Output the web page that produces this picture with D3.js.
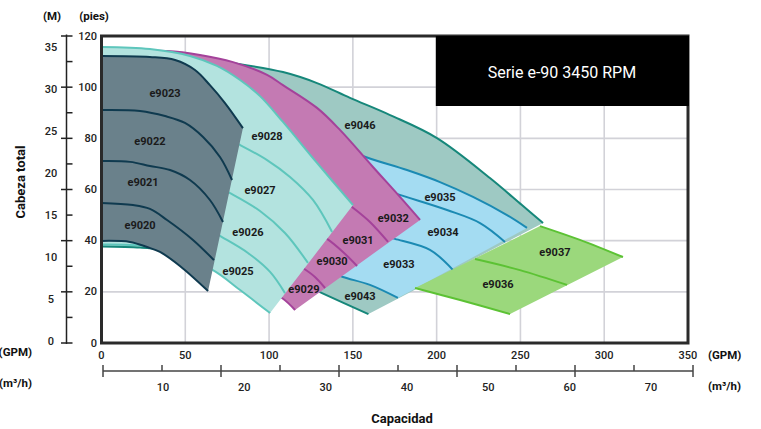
<!DOCTYPE html>
<html><head><meta charset="utf-8">
<script src="https://cdn.jsdelivr.net/npm/d3@7"></script>
<style>
body{margin:0;background:#fff}
svg{display:block;font-family:Roboto,"Noto Sans",sans-serif}
</style>
</head><body>
<svg id="c" width="761" height="429"></svg>
<script>
// ---------- axis values ----------
const gpmTicks = [0, 50, 100, 150, 200, 250, 300, 350];
const gridGpm = [50, 100, 150, 200, 250, 300];
const footTicks = [0, 20, 40, 60, 80, 100, 120];
const gridFeet = [20, 40, 60, 80, 100];
const footMinor = [0,10,20,30,40,50,60,70,80,90,100,110,120];
const meterTicks = [0, 5, 10, 15, 20, 25, 30, 35];
const m3Labels = [10, 20, 30, 40, 50, 60, 70];
const m3TickIdx = [0,1,2,3,4,5,6,7,8,9,10];
const title = "Serie e-90 3450 RPM";

// ---------- pump curves (GPM, feet), top curve first ----------
const tealCurves = [
  [[0,113.4],[40.9,112.6],[78.5,109.4],[108.3,105.9],[128.6,101.6],[148.3,95.8],[172.2,89.1],[200.2,80.1],[231.8,64.5],[250.9,53.9],[263.5,46.9]],
  [[0,37.7],[23.0,37.3],[34.9,36.7],[58.8,34.0],[94.6,28.5],[118.5,23.5],[131.6,19.5],[159.3,11.3]]
];
const blueCurves = [
  [[118.5,86.4],[136.4,79.3],[154.3,73.5],[182.3,67.6],[202.0,62.9],[221.7,57.1],[242.0,50.0],[253.9,45.0]],
  [[169.2,60.2],[175.1,58.6],[206.2,52.0],[225.9,46.9],[240.8,39.5]],
  [[169.2,41.8],[175.1,40.7],[196.0,36.4],[209.8,28.5]],
  [[118.5,31.7],[136.4,27.8],[144.1,25.8],[160.2,22.7],[176.9,17.6]]
];
const magentaCurves = [
  [[0,113.7],[39.1,114.1],[58.8,112.6],[78.5,109.8],[98.8,104.8],[108.3,100.8],[128.6,91.9],[142.3,83.3],[162.0,68.8],[178.1,57.1],[190.1,48.1]],
  [[145.3,55.5],[149.5,53.2],[160.2,47.3],[171.0,39.5]],
  [[130.4,42.2],[134.6,40.7],[144.1,35.6],[152.5,30.1]],
  [[116.1,30.9],[120.2,29.3],[127.4,25.8],[133.4,21.5]],
  [[0,39.1],[28.9,38.0],[58.8,31.7],[88.6,23.8],[107.7,17.6],[115.5,12.9]]
];
const cyanCurves = [
  [[0,115.7],[28.9,114.9],[52.8,112.2],[68.9,108.3],[82.7,102.8],[94.6,96.5],[108.3,86.4],[128.6,70.4],[150.1,53.9]],
  [[76.7,79.3],[82.7,77.4],[98.8,71.5],[112.5,64.9],[126.2,55.9],[137.6,43.4]],
  [[71.9,60.2],[76.7,58.6],[94.6,51.6],[109.5,43.0],[123.2,31.3]],
  [[67.7,43.0],[71.9,41.4],[87.4,35.2],[100.6,27.8],[109.5,19.5]],
  [[0,38.5],[26.0,37.9],[40.9,35.6],[66.5,28.5],[82.7,20.7],[100.6,11.7]]
];
const darkCurves = [
  [[0,112.2],[28.9,111.8],[43.9,110.6],[55.8,106.7],[64.7,100.8],[73.7,93.8],[84.4,84.0]],
  [[0,91.1],[23.0,90.7],[37.9,88.7],[49.8,86.0],[60.6,80.5],[70.7,72.7],[77.9,63.7]],
  [[0,71.1],[17.0,70.8],[28.9,69.2],[40.9,67.6],[52.8,63.7],[64.7,55.9],[72.5,47.3]],
  [[0,54.7],[18.8,53.9],[28.9,52.4],[39.1,48.1],[54.6,40.3],[67.1,32.4]],
  [[0,39.9],[17.0,39.5],[27.2,37.5],[34.9,35.6],[46.8,30.1],[63.6,20.3]]
];
const greenCurves = [
  [[261.7,45.7],[285.5,40.3],[311.2,33.6]],
  [[222.9,32.8],[249.7,28.5],[277.8,22.7]],
  [[187.1,21.5],[214.0,16.8],[243.8,11.3]]
];

// ---------- model labels (name, GPM, feet) ----------
const modelNames = ["e9023","e9022","e9021","e9020","e9028","e9027","e9026","e9025",
  "e9032","e9031","e9030","e9029","e9035","e9034","e9033","e9043","e9046","e9037","e9036"];
const labelGpm  = [37.9,28.9,24.8,23.0,98.8,94.6,87.4,81.5,174.1,153.1,137.6,120.8,202.0,203.8,177.5,154.3,154.3,270.6,236.6];
const labelFeet = [97.7,78.6,62.9,46.1,80.9,59.8,43.0,27.8,48.5,39.9,31.7,21.1,56.7,43.0,30.5,18.0,85.2,35.2,22.7];

// ---------- drawing ----------
const svg = d3.select("#c");
const x = d3.scaleLinear().domain([0, 350]).range([101.5, 688]);
const y = d3.scaleLinear().domain([0, 120]).range([343, 36]);
const FT_PER_M = 3.28084;

// grid
const grid = svg.append("g").attr("stroke", "#d2d2d8").attr("stroke-width", 1.6);
grid.selectAll("line.v").data(gridGpm).join("line")
  .attr("x1", d => x(d)).attr("x2", d => x(d)).attr("y1", y(120)).attr("y2", y(0));
grid.selectAll("line.h").data(gridFeet).join("line")
  .attr("x1", x(0)).attr("x2", x(350)).attr("y1", d => y(d)).attr("y2", d => y(d));

const line = d3.line().x(d => x(d[0])).y(d => y(d[1])).curve(d3.curveCatmullRom.alpha(0.5));
function smoothRegion(curves) {
  const top = line(curves[0]);
  const botRev = line(curves[curves.length - 1].slice().reverse());
  return top + "L" + botRev.slice(1) + "Z";
}
function drawFamily(curves, fill, stroke) {
  const g = svg.append("g");
  g.append("path").attr("d", smoothRegion(curves)).attr("fill", fill);
  g.selectAll("path.c").data(curves).join("path").attr("class", "c")
    .attr("d", d => line(d)).attr("fill", "none")
    .attr("stroke", stroke).attr("stroke-width", 2);
}
drawFamily(tealCurves, "#9ec9c3", "#16877a");
drawFamily(blueCurves, "#a4dcf2", "#1b8ab3");
drawFamily(magentaCurves, "#c47ab3", "#a4429a");
drawFamily(cyanCurves, "#b3e3df", "#5ec6bc");
drawFamily(darkCurves, "#6a818b", "#0f3a4f");
drawFamily(greenCurves, "#9bd87c", "#5cc234");

// model labels
svg.append("g").selectAll("text").data(modelNames).join("text")
  .attr("x", (d, i) => x(labelGpm[i])).attr("y", (d, i) => y(labelFeet[i]))
  .attr("text-anchor", "middle").attr("dominant-baseline", "central")
  .attr("font-size", 11).attr("font-weight", 700).attr("fill", "#1a1a1a")
  .text(d => d);

// plot frame
svg.append("rect").attr("x", x(0)).attr("y", y(120)).attr("width", x(350) - x(0)).attr("height", y(0) - y(120))
  .attr("fill", "none").attr("stroke", "#2a2a2a").attr("stroke-width", 3);

// title box
svg.append("rect").attr("x", x(199.5)).attr("y", y(120)).attr("width", x(350) - x(199.5) + 1).attr("height", 70)
  .attr("fill", "#000");
svg.append("text").attr("x", (x(199.5) + x(350)) / 2).attr("y", y(120) + 36)
  .attr("text-anchor", "middle").attr("dominant-baseline", "central")
  .attr("font-size", 16).attr("fill", "#fff").text(title);

// GPM tick labels
svg.append("g").selectAll("text").data(gpmTicks).join("text")
  .attr("x", d => x(d)).attr("y", 355).attr("text-anchor", "middle").attr("dominant-baseline", "central")
  .attr("font-size", 11).attr("font-weight", 500).attr("fill", "#222").text(d => d);

// feet labels
svg.append("g").selectAll("text").data(footTicks).join("text")
  .attr("x", 97).attr("y", d => y(d)).attr("text-anchor", "end").attr("dominant-baseline", "central")
  .attr("font-size", 11).attr("font-weight", 500).attr("fill", "#222").text(d => d);

// meter axis
const axM = svg.append("g").attr("stroke", "#222").attr("stroke-width", 1.5);
axM.append("line").attr("x1", 66.5).attr("x2", 66.5).attr("y1", y(120.6)).attr("y2", y(-0.4));
axM.selectAll("line.t").data(footMinor).join("line")
  .attr("x1", d => d % 20 === 0 ? 61 : 66.5).attr("x2", 72.5)
  .attr("y1", d => y(d)).attr("y2", d => y(d));
svg.append("g").selectAll("text").data(meterTicks).join("text")
  .attr("x", 51).attr("y", d => y(d * FT_PER_M) - 2).attr("text-anchor", "middle").attr("dominant-baseline", "central")
  .attr("font-size", 11).attr("font-weight", 500).attr("fill", "#222").text(d => d);

// m3/h axis
const m3Tick = d3.scaleLinear().domain([0, 10]).range([103, 693]);
const m3Lab = d3.scaleLinear().domain([10, 70]).range([163, 651]);
const ax3 = svg.append("g").attr("stroke", "#444").attr("stroke-width", 1.5);
ax3.append("line").attr("x1", m3Tick(0)).attr("x2", m3Tick(10)).attr("y1", 371).attr("y2", 371);
ax3.selectAll("line.t").data(m3TickIdx).join("line")
  .attr("x1", d => m3Tick(d)).attr("x2", d => m3Tick(d))
  .attr("y1", 365).attr("y2", d => d % 2 === 0 ? 377 : 371);
svg.append("g").selectAll("text").data(m3Labels).join("text")
  .attr("x", d => m3Lab(d)).attr("y", 387).attr("text-anchor", "middle").attr("dominant-baseline", "central")
  .attr("font-size", 11).attr("font-weight", 500).attr("fill", "#222").text(d => d);

// unit labels
const bold = (t, xx, yy, anchor, size) => svg.append("text").attr("x", xx).attr("y", yy)
  .attr("text-anchor", anchor).attr("dominant-baseline", "central")
  .attr("font-size", size).attr("font-weight", 700).attr("fill", "#111").text(t);
bold("(M)", 52, 16, "middle", 11.5);
bold("(pies)", 94, 16, "middle", 11.5);
bold("(GPM)", 32, 352, "end", 11.5);
bold("(m³/h)", 32, 383, "end", 11.5);
bold("(GPM)", 708, 355, "start", 11.5);
bold("(m³/h)", 708, 386, "start", 11.5);
bold("Capacidad", 402, 418, "middle", 13);
svg.append("text").attr("transform", "translate(20,182) rotate(-90)")
  .attr("text-anchor", "middle").attr("dominant-baseline", "central")
  .attr("font-size", 13).attr("font-weight", 700).attr("fill", "#111").text("Cabeza total");
</script>
</body></html>
